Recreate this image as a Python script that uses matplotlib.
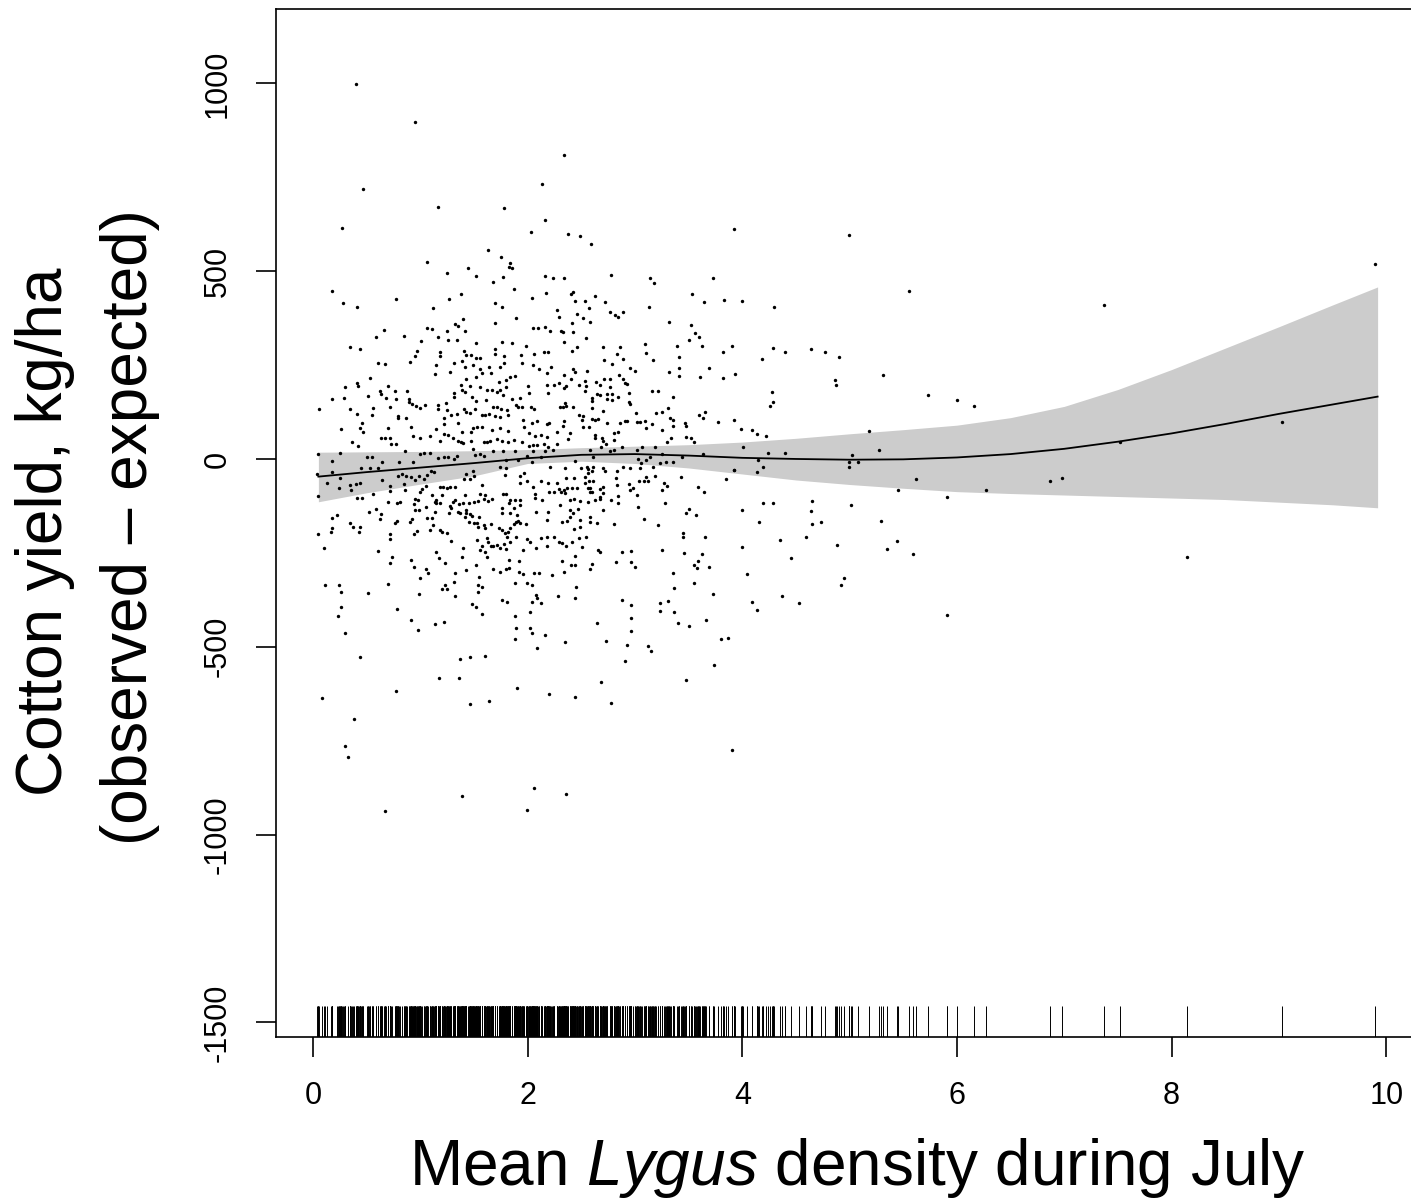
import numpy as np
import matplotlib
matplotlib.use("Agg")
import matplotlib.pyplot as plt

# GAM partial plot: yield residual vs mean Lygus density in July,
# points, grouped by the region they were read from.

plt.rcParams['font.family'] = ['Liberation Sans', 'DejaVu Sans']
plt.rcParams['mathtext.fontset'] = 'custom'
plt.rcParams['mathtext.rm'] = 'Liberation Sans'
plt.rcParams['mathtext.it'] = 'Liberation Sans:italic'
plt.rcParams['axes.unicode_minus'] = False

#=====================================================================
#     Data
#
# upper tail
dens_top = [0.40, 0.95, 2.34, 2.13, 0.47, 1.16, 1.78, 2.16, 0.27, 2.03,
            2.38, 2.49, 2.59, 1.63, 3.92, 4.99]
resid_top = [999, 898, 810, 733, 718, 672, 668, 637, 616, 603,
             600, 594, 573, 557, 612, 597]

# upper left block
dens_ul = [1.75, 1.84, 1.83, 1.85, 1.06, 1.25, 1.44, 1.52, 1.68, 1.77,
           1.87, 2.16, 2.24, 2.17, 2.04, 0.18, 0.28, 0.41, 0.77, 1.12,
           1.27, 1.38, 1.70, 1.76, 1.89, 2.27, 2.29, 1.70, 1.40, 1.32,
           1.35, 1.42, 1.25, 1.06, 1.11, 0.66, 0.59, 0.85, 1.01, 1.16,
           1.26, 1.34, 1.52, 1.76, 1.85, 1.70, 1.98, 2.05, 2.10, 2.16,
           2.21, 0.34, 0.44, 0.97, 0.95, 0.90, 1.18, 1.18, 1.41, 1.43,
           1.47, 1.52, 1.56, 1.70, 1.78, 1.94, 2.06, 2.15, 2.19, 0.61,
           0.67, 1.15, 1.31, 1.39, 1.42, 1.49, 1.56, 1.64, 1.74, 1.78,
           1.95, 2.05, 2.11, 2.22, 2.18, 1.14, 1.28, 1.57, 1.66, 0.53,
           1.43, 1.52, 1.73, 1.80, 1.84, 1.88, 0.30, 0.41, 0.42, 0.70,
           0.62, 0.76, 0.88, 1.38, 1.46, 1.56, 1.62, 1.67, 1.71, 1.74,
           1.80, 2.00, 2.18, 2.19, 2.25, 2.29, 0.18, 0.29, 0.51, 0.63,
           0.68, 0.77, 0.89, 1.31, 1.31, 1.39, 1.42, 1.48, 1.52, 1.61,
           1.77, 1.85, 1.93, 2.01, 0.06, 0.34, 0.56, 0.72, 0.89, 0.92,
           0.96, 1.00, 1.04, 1.16, 1.24, 1.16, 1.25, 1.41, 1.43, 1.46,
           1.51, 1.68, 1.71, 1.75, 1.81, 1.89, 1.91, 1.95, 2.03, 2.06,
           2.30, 0.41, 0.55, 0.79, 0.79, 0.87, 1.22, 1.29, 1.34, 1.57,
           1.60, 1.64, 1.70, 1.74, 1.82, 1.96, 2.04, 2.09, 2.18, 2.20,
           0.46, 0.44, 0.47, 0.26, 0.70, 0.91, 1.15, 1.22, 1.35, 1.39,
           1.47, 1.49, 1.53, 1.57, 1.67, 1.74, 1.82, 1.97, 2.01, 2.07,
           2.12, 2.18, 2.27, 0.36, 0.42, 0.63, 0.67, 0.72, 0.73, 0.77,
           0.93, 1.00, 1.09, 1.18, 1.22, 1.26, 1.30, 1.35, 1.38, 1.40,
           1.47, 1.59, 1.62, 1.65, 1.71, 1.76, 1.82, 1.87, 1.95, 2.01,
           2.05, 2.09, 2.15, 2.19, 2.27, 0.25, 0.05, 0.18, 0.50, 0.55,
           0.64, 0.80, 0.86, 0.93, 1.00, 1.03, 1.09, 1.16, 1.22, 1.26,
           1.31, 1.34, 1.49, 1.51, 1.56, 1.59, 1.68, 1.77, 1.80, 1.88,
           1.91, 1.99, 2.04, 2.05, 2.12, 2.16, 2.24, 0.45, 0.53, 0.61,
           1.74, 1.80, 2.21]
resid_ul = [537, 523, 512, 508, 525, 494, 509, 486, 470, 484,
            453, 488, 482, 441, 429, 448, 416, 404, 425, 403,
            425, 439, 416, 404, 376, 397, 379, 361, 372, 358,
            354, 342, 342, 350, 347, 343, 324, 328, 315, 324,
            317, 318, 309, 311, 308, 292, 301, 350, 350, 352,
            340, 297, 293, 288, 274, 259, 286, 274, 287, 278,
            276, 270, 270, 279, 274, 276, 279, 285, 284, 255,
            252, 250, 256, 260, 245, 251, 239, 245, 244, 256,
            256, 250, 239, 245, 229, 225, 231, 229, 230, 215,
            212, 219, 205, 210, 219, 222, 191, 202, 195, 195,
            182, 182, 180, 198, 195, 191, 183, 183, 177, 183,
            192, 194, 198, 175, 197, 202, 160, 163, 168, 173,
            161, 160, 160, 175, 166, 183, 179, 166, 155, 157,
            169, 159, 163, 175, 134, 132, 136, 139, 151, 146,
            141, 137, 144, 144, 148, 132, 130, 134, 124, 123,
            133, 139, 139, 134, 130, 145, 138, 139, 138, 132,
            139, 120, 116, 114, 108, 108, 110, 116, 120, 117,
            117, 120, 115, 113, 116, 104, 95, 102, 94, 97,
            95, 82, 72, 79, 82, 84, 81, 92, 95, 71,
            73, 82, 86, 86, 77, 82, 74, 86, 68, 62,
            63, 59, 72, 45, 34, 57, 57, 57, 39, 40,
            60, 55, 60, 49, 66, 64, 55, 49, 44, 42,
            48, 45, 46, 49, 53, 49, 44, 51, 46, 34,
            37, 37, 41, 31, 41, 16, 14, -5, 6, 6,
            -7, -7, 21, -7, 13, 16, 17, 3, 4, 6,
            1, 8, 26, 11, 13, 8, 20, 21, -2, 21,
            -2, 8, -7, 20, 6, 20, 24, -25, -25, -25,
            -21, -25, -21]

# upper right block
dens_ur = [2.34, 2.78, 3.14, 3.18, 3.73, 2.40, 2.42, 2.44, 2.53, 2.63,
           2.72, 2.57, 2.77, 2.81, 2.84, 2.89, 3.13, 3.53, 3.64, 3.83,
           4.00, 4.30, 2.46, 2.52, 2.58, 2.41, 3.32, 3.52, 2.31, 2.33,
           2.42, 2.34, 2.54, 2.46, 2.41, 2.70, 2.86, 2.83, 2.89, 2.71,
           2.79, 3.09, 3.10, 3.17, 3.39, 3.41, 3.41, 3.56, 3.60, 3.50,
           3.62, 3.82, 3.90, 4.18, 4.29, 4.40, 3.69, 3.61, 3.41, 3.32,
           3.82, 3.93, 2.95, 3.00, 2.55, 2.42, 2.44, 2.34, 2.40, 2.34,
           2.36, 2.48, 2.53, 2.54, 2.53, 2.64, 2.67, 2.71, 2.77, 2.77,
           2.85, 2.89, 2.91, 2.93, 2.94, 2.65, 2.67, 2.60, 2.60, 2.74,
           2.79, 2.84, 2.74, 2.79, 2.94, 2.95, 2.35, 2.33, 2.36, 2.42,
           2.60, 2.70, 3.01, 3.16, 3.21, 3.35, 3.31, 3.20, 3.25, 3.33,
           3.35, 3.35, 3.60, 3.63, 3.65, 3.47, 3.48, 3.77, 3.92, 3.99,
           4.09, 4.14, 4.22, 4.28, 4.29, 4.26, 2.48, 2.52, 2.51, 2.60,
           2.63, 2.66, 2.52, 2.57, 2.74, 2.86, 2.91, 2.93, 3.02, 3.05,
           3.09, 3.10, 3.16, 3.25, 2.39, 2.38, 2.33, 2.34, 2.63, 2.63,
           2.69, 2.70, 2.73, 2.80, 2.84, 2.80, 2.88, 2.80, 2.77, 2.68,
           2.58, 3.02, 3.07, 3.19, 3.30, 3.34, 3.48, 3.52, 3.55, 4.01,
           4.24, 4.40, 4.15, 3.63, 3.44, 3.25, 3.14, 3.03, 3.10, 3.06,
           2.44, 2.61, 3.23, 3.29, 3.35, 2.61, 2.70, 2.55, 2.50, 2.89,
           2.95, 3.05, 3.17, 3.92, 4.19, 2.35]
resid_ur = [481, 490, 483, 468, 481, 439, 444, 421, 421, 434,
            418, 403, 390, 384, 378, 390, 404, 440, 418, 424,
            421, 404, 387, 374, 365, 362, 365, 356, 341, 338,
            338, 312, 321, 299, 288, 298, 297, 279, 266, 263,
            253, 307, 282, 264, 300, 271, 243, 336, 326, 317,
            302, 285, 302, 267, 296, 286, 243, 219, 221, 232,
            216, 227, 242, 235, 235, 239, 232, 223, 214, 188,
            195, 197, 208, 195, 181, 205, 197, 214, 213, 191,
            224, 212, 201, 199, 176, 172, 170, 162, 153, 174,
            172, 166, 160, 157, 151, 146, 148, 139, 141, 139,
            135, 128, 122, 180, 180, 166, 136, 123, 126, 109,
            104, 87, 116, 109, 124, 97, 87, 98, 105, 80,
            77, 67, 62, 178, 151, 141, 118, 115, 105, 107,
            104, 106, 84, 85, 95, 96, 101, 102, 98, 98,
            100, 83, 92, 77, 68, 53, 89, 101, 65, 55,
            55, 49, 41, 68, 72, 51, 31, 24, 21, 33,
            24, 24, 31, 31, 46, 55, 58, 57, 46, 33,
            15, 15, -4, 13, 4, 13, 6, 1, -2, -11,
            -5, 4, -11, -8, -8, -21, -25, -21, -23, -21,
            -25, -25, -21, -29, -21, -25]

# lower left block
dens_ll = [0.05, 0.04, 0.18, 0.13, 0.25, 0.24, 0.34, 0.35, 0.40, 0.44,
           0.41, 0.46, 0.56, 0.64, 0.72, 0.72, 0.70, 0.78, 0.81, 0.79,
           0.83, 0.87, 0.91, 0.85, 0.86, 0.95, 0.99, 1.03, 1.06, 1.10,
           1.13, 1.05, 1.02, 1.00, 0.95, 0.98, 0.94, 0.95, 0.99, 1.05,
           1.14, 1.15, 1.18, 1.21, 1.25, 1.28, 1.32, 1.11, 1.20, 1.15,
           1.18, 1.28, 1.30, 1.29, 1.27, 1.32, 1.41, 1.43, 1.49, 1.50,
           1.46, 1.57, 1.56, 1.60, 1.42, 1.40, 1.36, 1.45, 1.50, 1.54,
           1.59, 1.63, 1.67, 1.35, 1.37, 1.43, 1.46, 1.42, 1.48, 1.14,
           1.11, 1.12, 1.09, 1.18, 1.20, 1.25, 1.06, 0.92, 0.90, 0.76,
           0.78, 0.62, 0.63, 0.52, 0.59, 0.18, 0.22, 0.18, 0.17, 0.34,
           0.37, 0.44, 0.43, 0.05, 0.10, 0.61, 0.72, 0.72, 0.94, 0.97,
           1.29, 1.43, 1.45, 1.50, 1.53, 1.55, 1.54, 1.59, 1.60, 1.66,
           1.73, 1.76, 1.79, 1.82, 1.84, 1.81, 1.87, 1.89, 1.91, 1.93,
           1.98, 1.76, 1.76, 1.84, 1.87, 1.90, 1.84, 1.88, 1.93, 1.83,
           1.93, 1.77, 1.80, 1.79, 1.93, 1.97, 1.93, 1.99, 2.05, 2.12,
           2.19, 2.27, 2.20, 2.25, 2.29, 2.07, 2.07, 2.13, 2.19, 2.18,
           2.08, 2.30, 1.62, 1.63, 1.66, 1.57, 1.56, 1.60, 1.62, 1.53,
           1.68, 1.71, 1.74, 1.78, 1.80, 1.84, 1.89, 1.96, 1.99, 2.02,
           2.08, 2.12, 2.18, 2.18, 2.25, 2.29, 1.40, 1.39, 1.15, 1.17,
           1.23, 1.43, 1.52, 1.68, 1.74, 1.80, 1.83, 1.83, 1.92, 1.92,
           1.96, 2.06, 2.11, 2.23, 0.91, 0.94, 1.05, 1.07, 1.00, 0.74,
           0.72, 1.32, 1.31, 1.23, 1.25, 1.20, 1.32, 0.99, 0.70, 0.51,
           0.11, 0.24, 0.26, 0.26, 0.23, 0.30, 0.44, 0.78, 0.91, 0.98,
           1.14, 1.22, 1.37, 1.46, 1.60, 1.48, 1.52, 1.57, 1.54, 1.57,
           1.54, 1.55, 1.76, 1.81, 1.88, 1.99, 2.04, 2.08, 2.09, 2.12,
           2.04, 2.02, 1.88, 1.89, 2.02, 2.04, 2.16, 1.88, 2.09, 2.28]
resid_ll = [-98, -40, -35, -65, -51, -78, -69, -82, -67, -65,
            -103, -105, -94, -56, -72, -84, -114, -118, -115, -45,
            -40, -45, -47, -67, -83, -56, -45, -54, -43, -32,
            -36, -72, -81, -87, -107, -109, -121, -136, -136, -129,
            -114, -109, -74, -75, -78, -75, -74, -96, -96, -116,
            -118, -124, -114, -131, -145, -109, -54, -40, -31, -45,
            -54, -69, -93, -96, -96, -116, -120, -118, -114, -111,
            -107, -111, -107, -140, -145, -145, -146, -154, -152, -140,
            -158, -176, -189, -189, -194, -198, -158, -160, -167, -170,
            -164, -160, -147, -140, -134, -158, -149, -185, -194, -170,
            -180, -180, -194, -201, -238, -245, -200, -212, -200, -191,
            -218, -136, -167, -171, -171, -155, -180, -176, -184, -173,
            -184, -189, -198, -194, -184, -208, -173, -168, -164, -170,
            -173, -131, -145, -145, -131, -149, -109, -109, -109, -116,
            -122, -93, -94, -43, -45, -38, -65, -58, -74, -59,
            -65, -65, -87, -87, -81, -93, -105, -109, -140, -162,
            -140, -122, -211, -220, -233, -233, -242, -247, -260, -216,
            -233, -229, -237, -226, -240, -220, -208, -242, -213, -220,
            -237, -211, -233, -208, -208, -222, -236, -262, -247, -265,
            -278, -296, -283, -294, -300, -294, -291, -269, -271, -300,
            -306, -303, -303, -309, -269, -288, -294, -304, -318, -262,
            -276, -303, -327, -336, -345, -345, -365, -360, -334, -358,
            -336, -336, -353, -393, -417, -463, -527, -400, -430, -455,
            -440, -433, -533, -528, -524, -386, -393, -413, -336, -340,
            -353, -313, -375, -382, -329, -329, -336, -363, -371, -384,
            -380, -408, -417, -449, -449, -463, -470, -480, -502, -364]

# lower right block
dens_lr = [2.36, 2.43, 2.56, 2.56, 2.60, 2.72, 2.83, 2.37, 2.41, 2.46,
           2.53, 2.53, 2.57, 2.61, 2.56, 2.58, 2.58, 2.60, 2.67, 2.70,
           2.70, 2.67, 2.67, 2.63, 2.56, 2.49, 2.43, 2.39, 2.31, 2.34,
           2.35, 2.82, 2.83, 2.94, 2.95, 2.98, 3.02, 3.04, 3.08, 3.12,
           3.10, 3.19, 3.27, 3.30, 3.25, 3.43, 3.59, 3.64, 3.85, 3.92,
           4.14, 2.78, 2.84, 2.84, 2.70, 2.80, 3.03, 3.08, 3.21, 3.28,
           3.48, 3.50, 3.57, 3.45, 3.45, 3.65, 4.00, 4.19, 4.29, 4.16,
           4.35, 4.45, 4.00, 3.25, 3.46, 3.62, 3.59, 3.55, 3.58, 3.69,
           3.35, 3.36, 3.55, 3.73, 4.04, 4.09, 4.14, 4.37, 4.53, 2.88,
           2.96, 2.82, 2.96, 3.00, 2.67, 2.66, 2.60, 2.58, 2.44, 2.44,
           2.40, 2.32, 2.34, 2.51, 2.54, 2.48, 2.41, 2.36, 2.32, 2.37,
           2.39, 2.42, 2.47, 2.49, 2.39, 2.43, 2.49, 2.58, 2.58, 2.65,
           2.32, 2.45, 2.44, 2.88, 2.96, 2.96, 2.96, 2.93, 2.65, 2.73,
           2.91, 3.12, 3.15, 3.23, 3.23, 3.31, 3.36, 3.40, 3.50, 3.66,
           3.80, 3.87, 3.74, 2.35]
resid_lr = [-51, -51, -26, -38, -31, -31, -31, -78, -78, -78,
            -49, -65, -58, -58, -78, -78, -87, -87, -81, -75,
            -91, -100, -107, -109, -114, -111, -107, -109, -87, -83,
            -91, -51, -69, -67, -83, -78, -96, -60, -60, -60,
            -47, -45, -65, -72, -83, -47, -74, -87, -54, -29,
            -34, -109, -98, -116, -136, -173, -129, -161, -176, -118,
            -145, -133, -150, -196, -209, -207, -136, -118, -116, -167,
            -216, -265, -235, -242, -251, -253, -271, -283, -289, -287,
            -304, -344, -331, -359, -306, -380, -402, -364, -384, -247,
            -245, -275, -275, -287, -247, -242, -280, -293, -258, -282,
            -282, -273, -300, -235, -207, -211, -220, -233, -224, -164,
            -136, -145, -134, -162, -154, -186, -180, -154, -167, -170,
            -167, -340, -371, -375, -390, -424, -458, -495, -436, -485,
            -538, -497, -511, -384, -406, -378, -408, -437, -446, -430,
            -479, -477, -549, -488]

# lower tail
dens_low = [1.17, 1.36, 0.77, 0.08, 1.90, 2.20, 2.44, 2.68, 2.78, 1.46,
            1.64, 3.48, 0.38, 0.30, 0.33, 3.90, 2.06, 2.36, 1.39, 0.67,
            1.99]
resid_low = [-582, -584, -617, -637, -609, -625, -633, -594, -649, -652,
             -645, -589, -692, -764, -794, -774, -876, -892, -897, -937,
             -934]

# high densities
dens_hi = [5.55, 7.37, 9.90, 4.64, 4.77, 4.90, 5.31, 4.86, 4.87, 5.73,
           6.00, 6.16, 5.18, 5.27, 5.02, 4.99, 5.08, 4.99, 7.52, 9.03,
           5.62, 5.45, 6.27, 6.87, 6.98, 5.91, 4.65, 5.01, 4.64, 5.29,
           4.73, 4.65, 4.59, 4.88, 5.44, 5.35, 5.59, 8.14, 4.95, 4.92,
           5.91]
resid_hi = [447, 410, 518, 292, 285, 272, 224, 209, 196, 169,
            157, 142, 74, 24, 11, -9, -7, -22, 46, 99,
            -54, -83, -83, -60, -51, -102, -111, -122, -138, -164,
            -167, -174, -208, -228, -219, -240, -252, -260, -316, -336,
            -415]

# smooth term and its confidence band
fit_x = [0.05, 0.5, 1.0, 1.5, 2.0, 2.5, 3.0, 3.5, 4.0, 4.5, 5.0,
         5.5, 6.0, 6.5, 7.0, 7.5, 8.0, 8.5, 9.0, 9.5, 9.92]
fit_y = [-47, -35, -23, -11, 2, 11, 13, 9, 3, 0, -2,
         -1, 4, 13, 27, 46, 68, 93, 120, 145, 166]
fit_hi = [18, 19, 20, 22, 25, 30, 34, 38, 45, 55, 67,
          78, 90, 110, 140, 185, 238, 295, 352, 410, 458]
fit_lo = [-114, -90, -67, -45, -12, -6, -12, -24, -40, -56, -68,
          -78, -87, -92, -96, -100, -104, -108, -115, -122, -130]

#=====================================================================
#     Plotting
#
dens = np.array(dens_top + dens_ul + dens_ur + dens_ll + dens_lr + dens_low + dens_hi)
resid = np.array(resid_top + resid_ul + resid_ur + resid_ll + resid_lr + resid_low + resid_hi)

W, H = 1411, 1198
fig = plt.figure(figsize=(W / 100, H / 100), dpi=100)
ax = fig.add_axes([276 / W, 161 / H, (1420 - 276) / W, (1037 - 9) / H])

ax.fill_between(fit_x, fit_lo, fit_hi, color='#cccccc', lw=0, zorder=1)
ax.scatter(dens, resid, s=6, c='k', lw=0, zorder=2)
ax.plot(fit_x, fit_y, color='k', lw=1.3, zorder=3)
ax.vlines(dens, 0, 0.03, transform=ax.get_xaxis_transform(), color='k', lw=0.7, zorder=2)

ax.set_xlim(-0.345, 10.315)
ax.set_ylim(-1539, 1198)
ax.set_xticks([0, 2, 4, 6, 8, 10])
ax.set_yticks([-1500, -1000, -500, 0, 500, 1000])

for s in ax.spines.values():
    s.set_linewidth(1.2)
ax.tick_params(direction='out', length=14.4, width=1.2, labelsize=22, pad=17)
ax.tick_params(axis='y', labelrotation=90)
for lab in ax.get_yticklabels():
    lab.set_va('center')

fig.text(45 / W, 1 - 532 / H, 'Cotton yield, kg/ha', rotation=90,
         ha='center', va='center', fontsize=46)
fig.text(130 / W, 1 - 527 / H, '(observed \u2013 expected)', rotation=90,
         ha='center', va='center', fontsize=46)
fig.text(857 / W, 1 - 1185 / H, 'Mean $\\mathit{Lygus}$ density during July',
         ha='center', va='baseline', fontsize=46)

fig.savefig('out.png', dpi=100)
